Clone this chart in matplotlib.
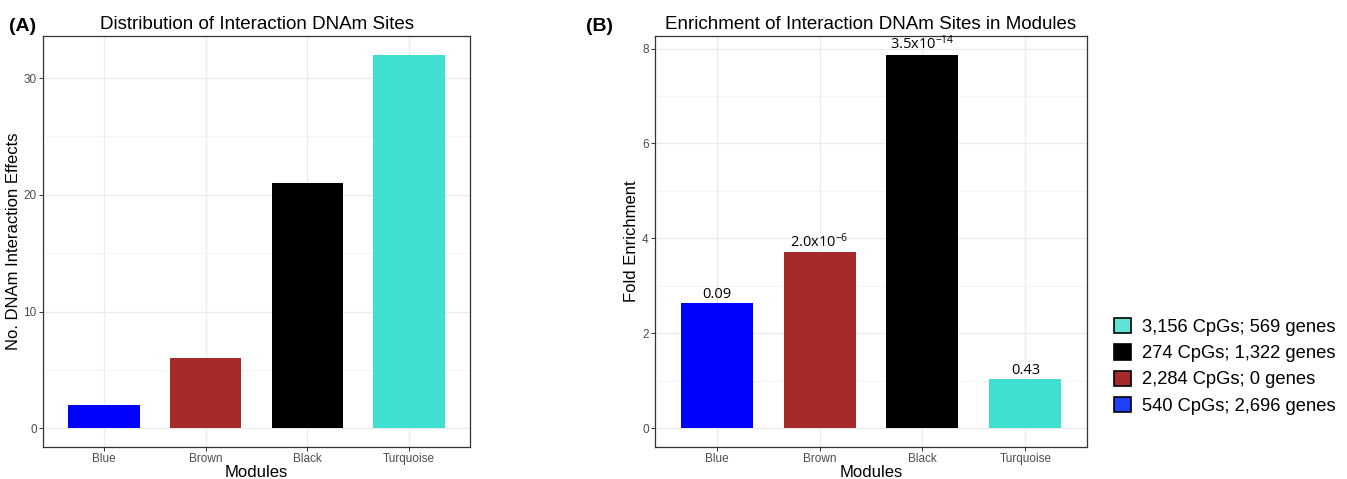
import matplotlib.pyplot as plt
import matplotlib.patches as mpatches
from matplotlib.ticker import MultipleLocator

# data
modules = ['Blue', 'Brown', 'Black', 'Turquoise']
bar_colors = ['#0000FF', '#A52A2A', '#000000', '#40E0D0']
n_effects = [2, 6, 21, 32]
fold_enrichment = [2.63, 3.71, 7.87, 1.03]
p_labels = ['0.09', '2.0x10$^{-6}$', '3.5x10$^{-14}$', '0.43']
legend_labels = ['3,156 CpGs; 569 genes', '274 CpGs; 1,322 genes',
                 '2,284 CpGs; 0 genes', '540 CpGs; 2,696 genes']
legend_colors = ['#5FE3D5', '#000000', '#A52A2A', '#2040FF']

plt.rcParams['font.family'] = ['Liberation Sans', 'DejaVu Sans']
plt.rcParams['mathtext.fontset'] = 'custom'
plt.rcParams['mathtext.rm'] = 'Open Sans'
plt.rcParams['mathtext.it'] = 'Open Sans'

fig = plt.figure(figsize=(13.47, 4.79), dpi=100)
ax1 = fig.add_axes([0.0319, 0.0668, 0.3171, 0.858])
ax2 = fig.add_axes([0.4863, 0.0668, 0.3207, 0.858])


def style(ax, vals, major, minor):
    x = range(len(modules))
    ax.set_xlim(-0.6, len(modules) - 0.4)
    top = max(vals)
    ax.set_ylim(-0.05 * top, top * 1.05)
    ax.yaxis.set_major_locator(MultipleLocator(major))
    ax.yaxis.set_minor_locator(MultipleLocator(minor))
    ax.set_xticks(list(x))
    ax.set_xticklabels(modules)
    ax.grid(True, which='major', color='#EBEBEB', linewidth=0.9, zorder=0)
    ax.grid(True, which='minor', axis='y', color='#F2F2F2', linewidth=0.6, zorder=0)
    ax.set_axisbelow(True)
    for s in ax.spines.values():
        s.set_color('#333333')
        s.set_linewidth(0.9)
    ax.tick_params(axis='both', which='major', colors='#333333', labelcolor='#4D4D4D',
                   labelsize=8.5, length=3, width=0.7, pad=1.5)
    ax.tick_params(axis='y', which='minor', length=0)
    ax.set_xlabel('Modules', fontsize=12, labelpad=0)


ax1.bar(range(len(modules)), n_effects, width=0.7, color=bar_colors, zorder=2)
style(ax1, n_effects, 10, 5)
ax1.set_ylabel('No. DNAm Interaction Effects', fontsize=12, labelpad=2)
ax1.set_title('Distribution of Interaction DNAm Sites', fontsize=13.5, pad=5)

bars = ax2.bar(range(len(modules)), fold_enrichment, width=0.7, color=bar_colors, zorder=2)
style(ax2, fold_enrichment, 2, 1)
ax2.set_ylabel('Fold Enrichment', fontsize=12, labelpad=2)
ax2.set_title('Enrichment of Interaction DNAm Sites in Modules', fontsize=13.5, pad=5)
for b, lab in zip(bars, p_labels):
    ax2.annotate(lab, (b.get_x() + b.get_width() / 2, b.get_height()),
                 xytext=(0, 1), textcoords='offset points',
                 ha='center', va='bottom', fontsize=10.5, family='Open Sans')

fig.text(0.007, 0.935, '(A)', fontsize=14, fontweight='bold')
fig.text(0.435, 0.935, '(B)', fontsize=14, fontweight='bold')

handles = [mpatches.Patch(facecolor=c, edgecolor='black', linewidth=1.2) for c in legend_colors]
fig.legend(handles, legend_labels, loc='center left', bbox_to_anchor=(0.815, 0.235),
           frameon=False, fontsize=13.2, handlelength=0.9, handleheight=0.9,
           handletextpad=0.6, labelspacing=0.45)

fig.savefig('out.png', dpi=100)
